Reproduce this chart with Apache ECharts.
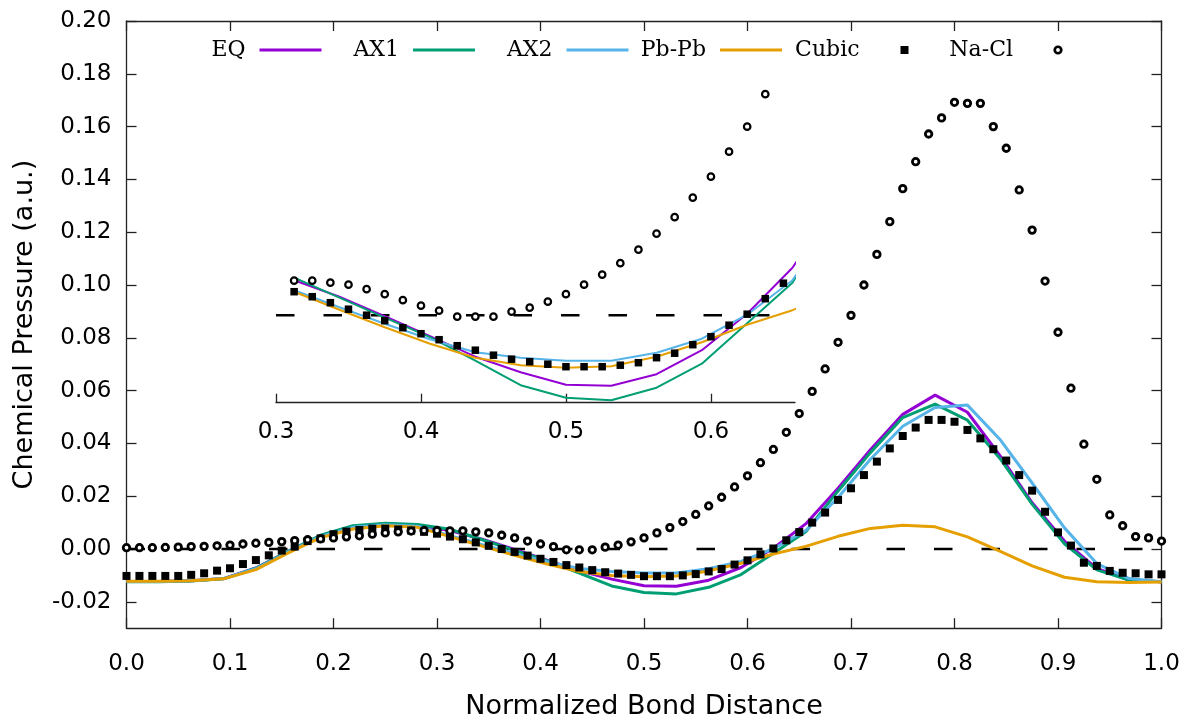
<!DOCTYPE html>
<html><head><meta charset="utf-8">
<script src="https://cdn.jsdelivr.net/npm/echarts@6/dist/echarts.min.js"></script>
<style>html,body{margin:0;padding:0;background:#fff}#c{width:1186px;height:715px}</style>
</head><body><div id="c"></div>
<script>
// x grid of the point series (squares / circles)
const pointX = [0,0.0125,0.025,0.0375,0.05,0.0625,0.075,0.0875,0.1,0.1125,0.125,0.1375,0.15,0.1625,0.175,0.1875,0.2,0.2125,0.225,0.2375,0.25,0.2625,0.275,0.2875,0.3,0.3125,0.325,0.3375,0.35,0.3625,0.375,0.3875,0.4,0.4125,0.425,0.4375,0.45,0.4625,0.475,0.4875,0.5,0.5125,0.525,0.5375,0.55,0.5625,0.575,0.5875,0.6,0.6125,0.625,0.6375,0.65,0.6625,0.675,0.6875,0.7,0.7125,0.725,0.7375,0.75,0.7625,0.775,0.7875,0.8,0.8125,0.825,0.8375,0.85,0.8625,0.875,0.8875,0.9,0.9125,0.925,0.9375,0.95,0.9625,0.975,0.9875,1.0];
const cubic = [-0.0102,-0.0102,-0.0102,-0.0102,-0.0102,-0.0098,-0.0092,-0.0082,-0.0073,-0.0057,-0.0042,-0.0024,-0.0006,0.0009,0.0030,0.0040,0.0056,0.0066,0.0072,0.0077,0.0077,0.0074,0.0070,0.0065,0.0058,
0.0047,0.0037,0.0025,0.0012,0.0000,-0.0011,-0.0025,-0.0037,-0.0049,-0.0061,-0.0070,-0.0080,-0.0088,-0.0093,-0.0098,-0.0103,-0.0103,-0.0103,-0.0100,-0.0095,-0.0085,-0.0076,-0.0059,-0.0043,-0.0020,0.0002,0.0033,0.0064,
0.0100,0.0138,0.0186,0.0230,0.0280,0.0331,0.0381,0.0428,0.0460,0.0489,0.0489,0.0482,0.0451,0.0419,0.0378,0.0335,0.0280,0.0221,0.0141,0.0063,0.0013,-0.0052,-0.0064,-0.0083,-0.0090,-0.0092,-0.0096,-0.0096];
const naCl = [0.0005,0.0005,0.0005,0.0006,0.0007,0.0009,0.0010,0.0012,0.0015,0.0019,0.0022,0.0025,0.0028,0.0032,0.0035,0.0038,0.0042,0.0046,0.0050,0.0056,0.0061,0.0065,0.0068,0.0070,0.0070,
0.0069,0.0069,0.0065,0.0061,0.0052,0.0042,0.0030,0.0019,0.0009,-0.0003,-0.0003,-0.0003,0.0007,0.0015,0.0027,0.0042,0.0061,0.0081,0.0104,0.0131,0.0163,0.0196,0.0235,0.0277,0.0327,0.0377,0.0442,0.0513,
0.0597,0.0682,0.0783,0.0885,0.1000,0.1116,0.1240,0.1365,0.1467,0.1572,0.1633,0.1692,0.1688,0.1688,0.1600,0.1518,0.1360,0.1208,0.1015,0.0821,0.0609,0.0397,0.0264,0.0129,0.0088,0.0047,0.0042,0.0030];

// x grid of the curves
const lineX = [0,0.03125,0.0625,0.09375,0.125,0.15625,0.1875,0.21875,0.25,0.28125,0.3125,0.34375,0.375,0.40625,0.4375,0.46875,0.5,0.53125,0.5625,0.59375,0.625,0.65625,0.6875,0.71875,0.75,0.78125,0.8125,0.84375,0.875,0.90625,0.9375,0.96875,1.0];
const eq   = [-0.0123,-0.0123,-0.0120,-0.0112,-0.0072,-0.0009,0.0050,0.0085,0.0095,0.0090,0.0070,0.0037,-0.0002,-0.0042,-0.0083,-0.0114,-0.0139,-0.0141,-0.0118,-0.0070,0.0003,0.0095,0.0230,0.0376,0.0510,0.0583,0.0518,0.0355,0.0175,0.0030,-0.0074,-0.0118,-0.0124];
const ax1  = [-0.0124,-0.0124,-0.0121,-0.0113,-0.0073,-0.0009,0.0052,0.0088,0.0098,0.0093,0.0075,0.0035,-0.0005,-0.0044,-0.0091,-0.0140,-0.0165,-0.0170,-0.0145,-0.0097,-0.0016,0.0065,0.0220,0.0365,0.0498,0.0549,0.0488,0.0344,0.0170,0.0020,-0.0079,-0.0118,-0.0124];
const ax2  = [-0.0123,-0.0123,-0.0120,-0.0112,-0.0075,-0.0012,0.0048,0.0082,0.0092,0.0086,0.0050,0.0016,-0.0017,-0.0048,-0.0074,-0.0085,-0.0091,-0.0091,-0.0075,-0.0047,0.0001,0.0070,0.0195,0.0340,0.0465,0.0536,0.0545,0.0416,0.0250,0.0080,-0.0055,-0.0112,-0.0124];
const pbpb = [-0.0122,-0.0122,-0.0120,-0.0113,-0.0078,-0.0015,0.0043,0.0076,0.0088,0.0082,0.0047,0.0011,-0.0024,-0.0057,-0.0085,-0.0100,-0.0105,-0.0102,-0.0083,-0.0054,-0.0019,0.0010,0.0048,0.0078,0.0090,0.0084,0.0046,-0.0008,-0.0064,-0.0107,-0.0124,-0.0127,-0.0125];

const zeroMainX = [0, 1];
const zeroInsetX = [0.3, 0.658];
const xTicks = [0,0.1,0.2,0.3,0.4,0.5,0.6,0.7,0.8,0.9,1.0];
const yTicks = [-0.02,0,0.02,0.04,0.06,0.08,0.10,0.12,0.14,0.16,0.18,0.20];
const insetTicks = [0.3,0.4,0.5,0.6];
const names = ['EQ','AX1','AX2','Pb-Pb','Cubic','Na-Cl'];
const colors = ['#9400D3','#009E73','#56B4E9','#E69F00','#000000','#000000'];

function pairs(xs, ys, lo) {
  const out = [];
  for (let i = 0; i < xs.length; i++) if (lo === undefined || xs[i] > lo + 1e-9) out.push([xs[i], ys[i]]);
  return out;
}
const curves = [eq, ax1, ax2, pbpb];
const axisColor = '#222';
const sans = 'DejaVu Sans';

const series = [];
// main plot
series.push({type:'line', xAxisIndex:0, yAxisIndex:0, data: zeroMainX.map(x => [x, 0]), symbol:'none', silent:true, z:1,
  lineStyle:{color:'#000', width:2.5, type:[18.5,29], dashOffset:0}});
curves.forEach((c, i) => series.push({type:'line', name:names[i], xAxisIndex:0, yAxisIndex:0, data:pairs(lineX, c),
  symbol:'none', z:2, color:colors[i], lineStyle:{color:colors[i], width:3}, itemStyle:{color:colors[i]}}));
series.push({type:'scatter', name:'Cubic', xAxisIndex:0, yAxisIndex:0, data:pairs(pointX, cubic), symbol:'rect', symbolSize:8, z:3,
  itemStyle:{color:'#000', opacity:1}});
series.push({type:'scatter', name:'Na-Cl', xAxisIndex:0, yAxisIndex:0, data:pairs(pointX, naCl), symbol:'circle', symbolSize:6.5, z:4,
  itemStyle:{color:'#fff', borderColor:'#000', borderWidth:2.8, opacity:1}});
// inset
series.push({type:'line', xAxisIndex:2, yAxisIndex:2, data: zeroInsetX.map(x => [x, 0]), symbol:'none', silent:true, z:1,
  lineStyle:{color:'#000', width:2.5, type:[18.5,29], dashOffset:0}});
curves.forEach((c, i) => series.push({type:'line', name:names[i], xAxisIndex:2, yAxisIndex:2, data:pairs(lineX, c, 0.3),
  symbol:'none', z:2, clip:true, color:colors[i], lineStyle:{color:colors[i], width:2}, itemStyle:{color:colors[i]}}));
series.push({type:'scatter', name:'Cubic', xAxisIndex:2, yAxisIndex:2, data:pairs(pointX, cubic, 0.3), symbol:'rect', symbolSize:7.5, z:3, clip:true,
  itemStyle:{color:'#000', opacity:1}});
series.push({type:'scatter', name:'Na-Cl', xAxisIndex:2, yAxisIndex:2, data:pairs(pointX, naCl, 0.3), symbol:'circle', symbolSize:6.5, z:4, clip:true,
  itemStyle:{color:'#fff', borderColor:'#000', borderWidth:2.2, opacity:1}});

const lineIcon = 'path://M0,0 M71,14 M9,5.5 h62 v3 h-62 Z';
const rectIcon = 'path://M0,0 M71,14 M36,3 h8 v8 h-8 Z';
const ringIcon = 'path://M0,0 M71,14 M44.6,7 A4.6,4.6 0 1,1 44.6,6.99 Z M41.9,7 A1.9,1.9 0 1,0 41.9,7.01 Z';
const legendIcons = [lineIcon, lineIcon, lineIcon, lineIcon, rectIcon, ringIcon];

const lineAxis = {show:true, onZero:false, lineStyle:{color:axisColor, width:1.3}};
const tickStyle = {color:axisColor, width:1.3};

// gnuplot-style key: equal-width columns, label right-justified before its sample
const keyFirstTextEnd = 245.5, keyColumn = 153.5, chartWidth = 1186;
const legends = names.map((n, k) => {
  const item = {name:n, icon:legendIcons[k]};
  if (k >= 4) item.itemStyle = {color:'#000', borderWidth:0};
  return {
    right: chartWidth - (keyFirstTextEnd + k * keyColumn + 76), top:39,
    orient:'horizontal', align:'right', padding:0,
    itemWidth:71, itemHeight:14, selectedMode:false,
    itemStyle:{borderWidth:0},
    textStyle:{fontFamily:'DejaVu Serif', fontSize:22, color:'#000'},
    data:[item]
  };
});

const option = {
  animation:false,
  backgroundColor:'#fff',
  grid:[
    {left:126.5, right:24.5, top:21, bottom:86.8, containLabel:false, outerBoundsMode:'none'},
    {left:276, top:65.2, width:519, height:337.5, containLabel:false, outerBoundsMode:'none'}
  ],
  legend:legends,
  xAxis:[
    {gridIndex:0, type:'value', min:0, max:1, position:'bottom',
     axisLine:lineAxis, splitLine:{show:false},
     axisTick:{show:true, inside:true, length:10, customValues:xTicks, lineStyle:tickStyle},
     axisLabel:{show:true, customValues:xTicks, formatter:v => v.toFixed(1), margin:24, fontFamily:sans, fontSize:23, color:'#000'},
     name:'Normalized Bond Distance', nameLocation:'middle', nameGap:65,
     nameTextStyle:{fontFamily:sans, fontSize:27, color:'#000'}},
    {gridIndex:0, type:'value', min:0, max:1, position:'top',
     axisLine:lineAxis, splitLine:{show:false},
     axisTick:{show:true, inside:true, length:10, customValues:xTicks, lineStyle:tickStyle},
     axisLabel:{show:false}},
    {gridIndex:1, type:'value', min:zeroInsetX[0], max:zeroInsetX[1], position:'bottom',
     axisLine:lineAxis, splitLine:{show:false},
     axisTick:{show:true, inside:true, length:9, customValues:insetTicks, lineStyle:tickStyle},
     axisLabel:{show:true, customValues:insetTicks, formatter:v => v.toFixed(1), margin:18, fontFamily:sans, fontSize:23, color:'#000'}}
  ],
  yAxis:[
    {gridIndex:0, type:'value', min:-0.03, max:0.2, position:'left',
     axisLine:lineAxis, splitLine:{show:false},
     axisTick:{show:true, inside:true, length:10, customValues:yTicks, lineStyle:tickStyle},
     axisLabel:{show:true, customValues:yTicks, formatter:v => v.toFixed(2), margin:15, fontFamily:sans, fontSize:23, color:'#000'},
     name:'Chemical Pressure (a.u.)', nameLocation:'middle', nameGap:88, nameRotate:90,
     nameTextStyle:{fontFamily:sans, fontSize:27, color:'#000'}},
    {gridIndex:0, type:'value', min:-0.03, max:0.2, position:'right',
     axisLine:lineAxis, splitLine:{show:false},
     axisTick:{show:true, inside:true, length:10, customValues:yTicks, lineStyle:tickStyle},
     axisLabel:{show:false}},
    {gridIndex:1, type:'value', min:-0.0175, max:0.05, show:false, splitLine:{show:false}}
  ],
  series:series
};
const chart = echarts.init(document.getElementById('c'), null, {renderer:'canvas'});
chart.setOption(option);
</script>
</body></html>
